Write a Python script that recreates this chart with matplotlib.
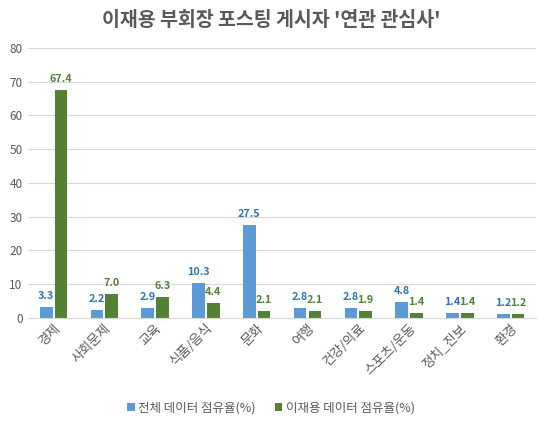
import matplotlib
matplotlib.use("Agg")
import matplotlib.pyplot as plt
import numpy as np

plt.rcParams['font.family'] = ['Noto Sans CJK KR', 'DejaVu Sans']

categories = ['경제', '사회문제', '교육', '식품/음식', '문화', '여행', '건강/의료', '스포츠/운동', '정치_진보', '환경']
total_share = [3.3, 2.2, 2.9, 10.3, 27.5, 2.8, 2.8, 4.8, 1.4, 1.2]
lee_share = [67.4, 7.0, 6.3, 4.4, 2.1, 2.1, 1.9, 1.4, 1.4, 1.2]
series_names = ['전체 데이터 점유율(%)', '이재용 데이터 점유율(%)']

blue = '#5B9BD5'
green = '#548235'
grey = '#595959'

fig = plt.figure(figsize=(5.42, 4.21), dpi=100)
ax = fig.add_axes([0.052, 0.245, 0.937, 0.641])

x = np.arange(len(categories))
w = 0.25
b1 = ax.bar(x - w/2 - 0.02, total_share, w, color=blue, label=series_names[0])
b2 = ax.bar(x + w/2 + 0.02, lee_share, w, color=green, label=series_names[1])

# data labels
for rect, v in zip(b1, total_share):
    ax.text(rect.get_x() + rect.get_width()/2, v + 1.8, f'{v:.1f}', ha='center', va='bottom',
            fontsize=7.8, fontweight='bold', color='#2E75B6')
for rect, v in zip(b2, lee_share):
    ax.text(rect.get_x() + rect.get_width()/2, v + 1.8, f'{v:.1f}', ha='center', va='bottom',
            fontsize=7.8, fontweight='bold', color=green)

ax.set_ylim(0, 80)
ax.set_xlim(-0.5, len(categories) - 0.5)
ax.set_yticks(range(0, 81, 10))
ax.yaxis.grid(True, color='#D9D9D9', linewidth=0.8)
ax.set_axisbelow(True)
for s in ['top', 'right', 'left']:
    ax.spines[s].set_visible(False)
ax.spines['bottom'].set_color('#D9D9D9')
ax.tick_params(axis='y', length=0, labelsize=8.5, labelcolor=grey, pad=4)
ax.tick_params(axis='x', length=0, labelsize=9.5, labelcolor=grey, pad=3)
ax.set_xticks(x)
ax.set_xticklabels(categories, rotation=45, ha='right', rotation_mode='anchor')

fig.text(0.5, 0.952, "이재용 부회장 포스팅 게시자 '연관 관심사'", ha='center', va='center',
         fontsize=14, fontweight='bold', color=grey)

fig.legend(loc='center', bbox_to_anchor=(0.5, 0.03), ncol=2, frameon=False,
           fontsize=9, labelcolor=grey, handlelength=0.6, handleheight=0.6,
           handletextpad=0.3, columnspacing=1.5)

fig.savefig('out.png', dpi=100)
